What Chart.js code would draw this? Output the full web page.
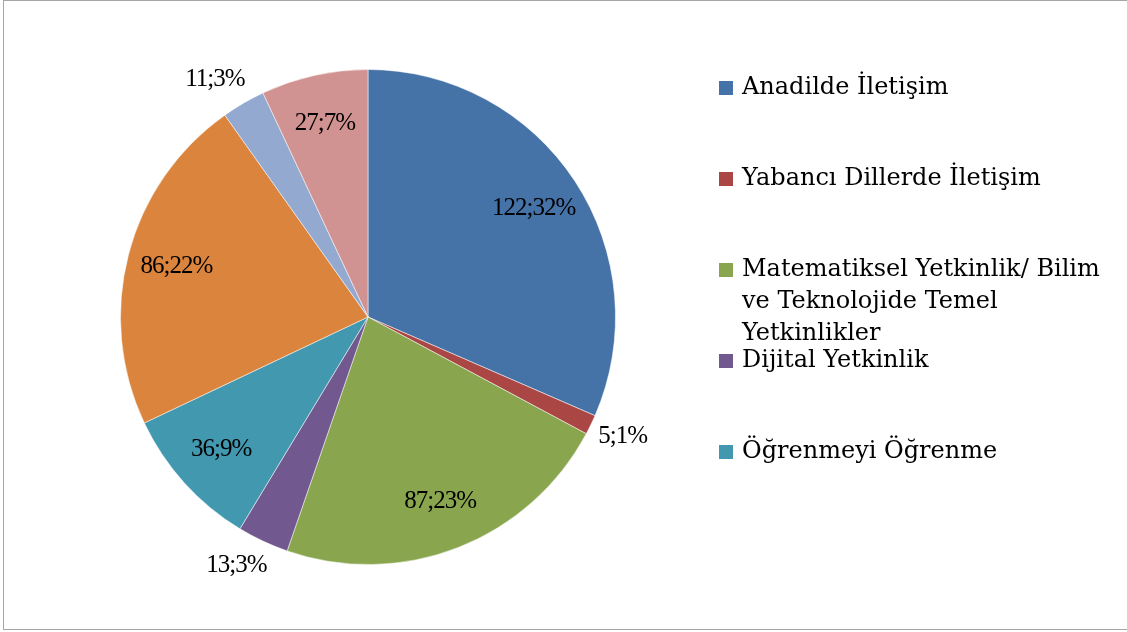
<!DOCTYPE html>
<html>
<head>
<meta charset="utf-8">
<script src="https://cdn.jsdelivr.net/npm/chart.js@4"></script>
<style>
  body { margin: 0; background: #fff; overflow: hidden; }
  #frame { position: absolute; left: 3px; top: 0; width: 1130px; height: 630px; border: 1px solid #a6a6a6; box-sizing: border-box; }
  canvas { position: absolute; left: 0; top: 0; }
</style>
</head>
<body>
<div id="frame"></div>
<canvas id="pie" width="1127" height="632"></canvas>
<script>
const labels = [
  'Anadilde İletişim',
  'Yabancı Dillerde İletişim',
  'Matematiksel Yetkinlik/ Bilim ve Teknolojide Temel Yetkinlikler',
  'Dijital Yetkinlik',
  'Öğrenmeyi Öğrenme',
  'Sosyal ve Vatandaşlıkla İlgili Yetkinlikler',
  'İnisiyatif Alma ve Girişimcilik',
  'Kültürel Farkındalık ve İfade'
];
const values = [122, 5, 87, 13, 36, 86, 11, 27];
const percentLabels = ['32%', '1%', '23%', '3%', '9%', '22%', '3%', '7%'];
const colors = ['#4572a7', '#aa4643', '#89a54e', '#71588f', '#4198af', '#db843d', '#93a9cf', '#d19392'];
const legendShown = 5; // Excel cut the legend after five entries

// values + percent written on the slices, small ones go outside
const sliceLabels = {
  id: 'sliceLabels',
  afterDatasetsDraw(chart) {
    const ctx = chart.ctx;
    const arcs = chart.getDatasetMeta(0).data;
    const total = values.reduce((a, b) => a + b, 0);
    ctx.save();
    ctx.font = '25px "Liberation Serif"';
    ctx.letterSpacing = '-1px';
    ctx.fillStyle = '#000';
    ctx.textAlign = 'center';
    ctx.textBaseline = 'middle';
    arcs.forEach((arc, i) => {
      const p = arc.getProps(['x', 'y', 'startAngle', 'endAngle', 'outerRadius']);
      const mid = (p.startAngle + p.endAngle) / 2;
      const txt = values[i] + ';' + percentLabels[i];
      const outside = values[i] / total < 0.05;
      const f = outside ? 1.11 : 0.8;
      let x = p.x + Math.cos(mid) * p.outerRadius * f;
      const y = p.y + Math.sin(mid) * p.outerRadius * f;
      if (outside) {
        const w = ctx.measureText(txt).width;
        x += (x < p.x ? -0.25 : 0.15) * w;
      }
      ctx.fillText(txt, x, y);
    });
    ctx.restore();
  }
};

// legend on the right, wrapped like the original
const sideLegend = {
  id: 'sideLegend',
  afterDraw(chart) {
    const ctx = chart.ctx;
    ctx.save();
    ctx.font = '24px "DejaVu Serif"';
    ctx.textBaseline = 'middle';
    const boxX = 719, textX = 742, maxW = 375;
    for (let i = 0; i < legendShown; i++) {
      const y = 88 + i * 91;
      ctx.fillStyle = colors[i];
      ctx.fillRect(boxX, y - 7, 14, 14);
      ctx.fillStyle = '#000';
      let line = '', ly = y;
      labels[i].split(' ').forEach(w => {
        const test = line ? line + ' ' + w : w;
        if (ctx.measureText(test).width > maxW && line) {
          ctx.fillText(line, textX, ly);
          line = w;
          ly += 32;
        } else {
          line = test;
        }
      });
      ctx.fillText(line, textX, ly);
    }
    ctx.restore();
  }
};

new Chart(document.getElementById('pie'), {
  type: 'pie',
  data: {
    labels: labels,
    datasets: [{
      data: values,
      backgroundColor: colors,
      borderColor: 'rgba(255,255,255,0.5)',
      borderWidth: 1
    }]
  },
  options: {
    responsive: false,
    animation: false,
    layout: { padding: { left: 120, right: 511, top: 69, bottom: 67 } },
    plugins: {
      legend: { display: false },
      tooltip: { enabled: false }
    }
  },
  plugins: [sliceLabels, sideLegend]
});
</script>
</body>
</html>
